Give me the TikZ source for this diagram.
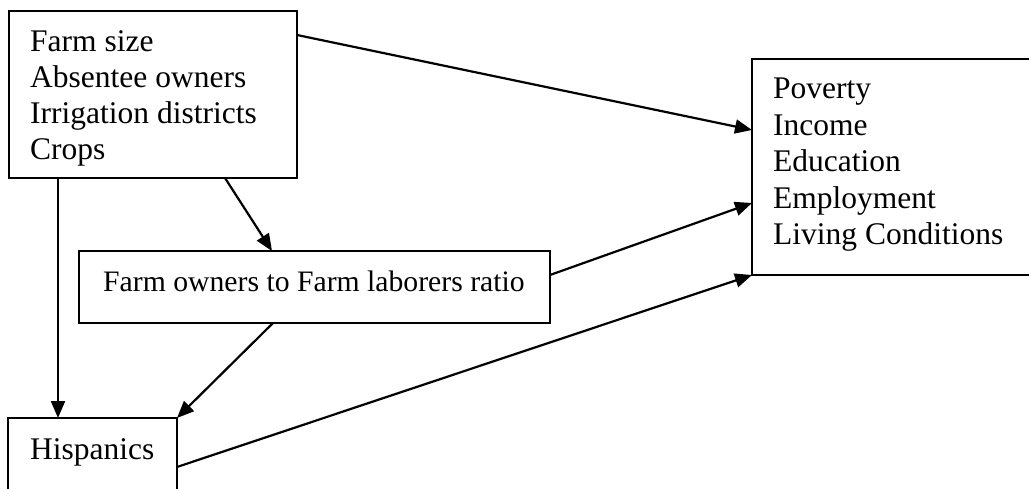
\documentclass[tikz,border=0pt]{standalone}
\usepackage{fontspec}
\setmainfont{Liberation Serif}
\usetikzlibrary{arrows.meta,calc}
\begin{document}
\begin{tikzpicture}[x=1pt,y=-1pt,
  boxstyle/.style={draw,line width=2pt,rectangle,inner sep=0pt,outer sep=0pt,anchor=north west},
  lbl/.style={anchor=base west,inner sep=0pt,font=\fontsize{31.5}{36.5}\selectfont},
  conn/.style={line width=2.2pt,-{Triangle[length=17pt,width=14pt]}}]
\useasboundingbox (0,0) rectangle (1029,489);
\clip (0,0) rectangle (1029,489);
% boxes
\node[boxstyle,minimum width=288pt,minimum height=167pt] (b1) at (9,11) {};
\node[boxstyle,minimum width=471pt,minimum height=72pt] (b2) at (79,251) {};
\node[boxstyle,minimum width=320pt,minimum height=216pt] (b3) at (752,59) {};
\node[boxstyle,minimum width=169pt,minimum height=120pt] (b4) at (8,418) {};
% texts
\node[lbl] (t11) at (30,52) {Farm size};
\node[lbl] (t12) at (30,88) {Absentee owners};
\node[lbl] (t13) at (30,124) {Irrigation districts};
\node[lbl] (t14) at (30,160) {Crops};
\node[lbl,font=\fontsize{29.7}{34}\selectfont] (t2) at (103,292) {Farm owners to Farm laborers ratio};
\node[lbl] (t31) at (773,99) {Poverty};
\node[lbl] (t32) at (773,135.5) {Income};
\node[lbl] (t33) at (773,172) {Education};
\node[lbl] (t34) at (773,208.5) {Employment};
\node[lbl] (t35) at (773,245) {Living Conditions};
\node[lbl] (t4) at (30,459) {Hispanics};
% connectors
\draw[conn] ($(b1.north east)+(0,24)$) -- ($(b3.north west)+(0,71)$);
\draw[conn] ($(b1.south west)+(49,0)$) -- ($(b4.north west)+(50,0)$);
\draw[conn] ($(b1.south west)+(216,0)$) -- ($(b2.north west)+(193,0)$);
\draw[conn] ($(b2.north east)+(0,24)$) -- ($(b3.north west)+(0,144)$);
\draw[conn] ($(b2.south west)+(194,0)$) -- (b4.north east);
\draw[conn] ($(b4.north east)+(0,49)$) -- (b3.south west);
\end{tikzpicture}
\end{document}
